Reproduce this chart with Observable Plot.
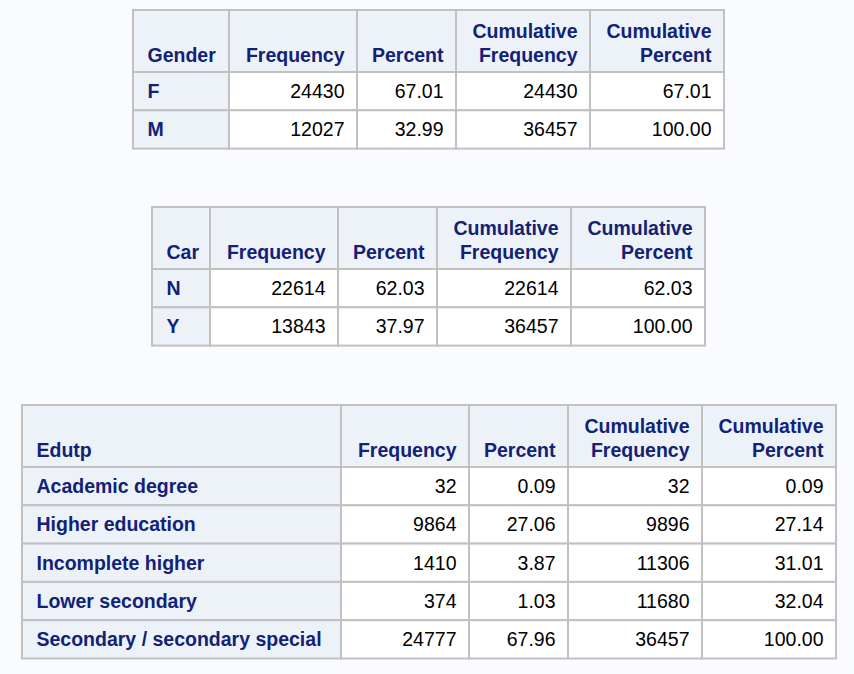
<!DOCTYPE html>
<html><head><meta charset="utf-8">
<script src="https://cdn.jsdelivr.net/npm/d3@7"></script>
<script src="https://cdn.jsdelivr.net/npm/@observablehq/plot@0.6"></script>
<style>body{margin:0;background:#fafbfe;}</style>
</head><body><div id="c"></div>
<script>
const genderCats = ["F","M"];
const genderFreq = [24430,12027];
const genderPct = ["67.01","32.99"];
const genderCumFreq = [24430,36457];
const genderCumPct = ["67.01","100.00"];

const carCats = ["N","Y"];
const carFreq = [22614,13843];
const carPct = ["62.03","37.97"];
const carCumFreq = [22614,36457];
const carCumPct = ["62.03","100.00"];

const eduCats = ["Academic degree","Higher education","Incomplete higher","Lower secondary","Secondary / secondary special"];
const eduFreq = [32,9864,1410,374,24777];
const eduPct = ["0.09","27.06","3.87","1.03","67.96"];
const eduCumFreq = [32,9896,11306,11680,36457];
const eduCumPct = ["0.09","27.14","31.01","32.04","100.00"];

const headers = [["Frequency"],["Percent"],["Cumulative","Frequency"],["Cumulative","Percent"]];

const tables = [
  {name:"Gender", cats:genderCats, cols:[genderFreq,genderPct,genderCumFreq,genderCumPct], x0:133, w0:96, y0:10},
  {name:"Car", cats:carCats, cols:[carFreq,carPct,carCumFreq,carCumPct], x0:152, w0:58, y0:207},
  {name:"Edutp", cats:eduCats, cols:[eduFreq,eduPct,eduCumFreq,eduCumPct], x0:22, w0:319, y0:405}
];
const colW = [128,99,134,134];
const HH = 62, RH = 38.3;

const cells = [], texts = [];
for (const t of tables) {
  const edges = [t.x0, t.x0+t.w0];
  for (const w of colW) edges.push(edges[edges.length-1]+w);
  const nr = t.cats.length;
  // header row
  for (let c=0;c<5;c++) {
    cells.push({x1:edges[c],x2:edges[c+1],y1:t.y0,y2:t.y0+HH,fill:"#edf2f9"});
    const lines = c===0 ? [t.name] : headers[c-1];
    lines.forEach((s,i)=>{
      const by = t.y0 + HH - 10 - (lines.length-1-i)*24;
      texts.push({x: c===0? edges[0]+14 : edges[c+1]-13, y: by-7, s, anchor: c===0?"start":"end", bold:true, fill:"#112277"});
    });
  }
  for (let r=0;r<nr;r++) {
    const ya = t.y0+HH+r*RH, yb = ya+RH;
    cells.push({x1:edges[0],x2:edges[1],y1:ya,y2:yb,fill:"#edf2f9"});
    texts.push({x:edges[0]+14,y:(ya+yb)/2,s:t.cats[r],anchor:"start",bold:true,fill:"#112277"});
    for (let c=1;c<5;c++) {
      cells.push({x1:edges[c],x2:edges[c+1],y1:ya,y2:yb,fill:"#ffffff"});
      texts.push({x:edges[c+1]-13,y:(ya+yb)/2,s:String(t.cols[c-1][r]),anchor:"end",bold:false,fill:"#000000"});
    }
  }
}

const plot = Plot.plot({
  width:854, height:674, margin:0,
  style:{background:"#fafbfe", fontFamily:"'Liberation Sans', Arial, sans-serif"},
  x:{domain:[0,854], range:[0,854], axis:null},
  y:{domain:[0,674], range:[0,674], axis:null},
  marks:[
    Plot.rect(cells,{x1:"x1",x2:"x2",y1:"y1",y2:"y2",fill:"fill",stroke:"#c1c1c1",strokeWidth:2,inset:0}),
    Plot.text(texts.filter(d=>d.bold&&d.anchor==="start"),{x:"x",y:"y",text:"s",textAnchor:"start",fill:"#112277",fontWeight:"bold",fontSize:19.5}),
    Plot.text(texts.filter(d=>d.bold&&d.anchor==="end"),{x:"x",y:"y",text:"s",textAnchor:"end",fill:"#112277",fontWeight:"bold",fontSize:19.5}),
    Plot.text(texts.filter(d=>!d.bold),{x:"x",y:"y",text:"s",textAnchor:"end",fill:"#000",fontSize:19.5})
  ]
});
document.getElementById("c").appendChild(plot);
</script></body></html>
